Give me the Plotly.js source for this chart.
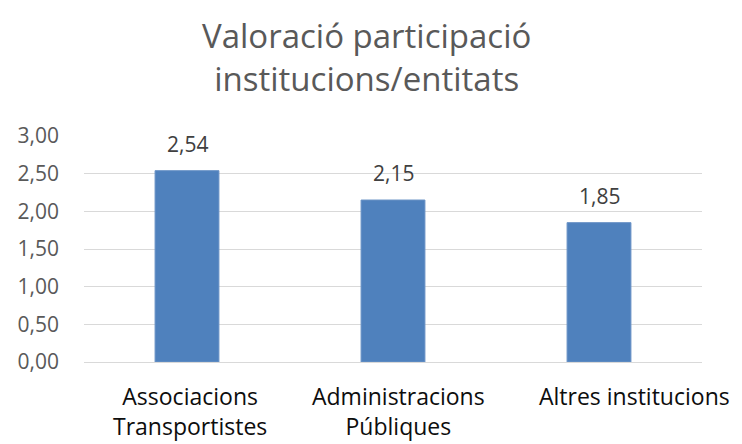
<!DOCTYPE html>
<html>
<head>
<meta charset="utf-8">
<script src="https://cdn.plot.ly/plotly-3.0.1.min.js"></script>
<style>
  html, body { margin: 0; padding: 0; background: #fff; }
  #graph { width: 742px; height: 444px; }
</style>
</head>
<body>
<div id="graph"></div>
<script>
var categories = ["Associacions Transportistes", "Administracions Públiques", "Altres institucions"];
var categoryLabels = ["Associacions<br>Transportistes", "Administracions<br>Públiques", "Altres institucions"];
var values = [2.54, 2.15, 1.85];
var valueLabels = ["2,54", "2,15", "1,85"];
var yTicks = [0, 0.5, 1, 1.5, 2, 2.5, 3];
var titleText = "Valoració participació<br>institucions/entitats";

var font = "'Open Sans', sans-serif";
// the original places its category labels a little off the bar centres
var labelNudge = [3, 5, 35];

var trace = {
  x: categories,
  y: values,
  type: 'bar',
  marker: { color: '#4f81bd', line: { color: '#6a93c6', width: 1 } },
  hoverinfo: 'none'
};

var notes = [];
for (var i = 0; i < categories.length; i++) {
  // value above the bar
  notes.push({
    x: categories[i],
    y: values[i],
    text: valueLabels[i],
    showarrow: false,
    yanchor: 'bottom',
    yshift: 11,
    font: { family: font, size: 21, color: '#404040' }
  });
  // category label under the axis
  notes.push({
    x: categories[i],
    y: 0,
    yref: 'paper',
    text: categoryLabels[i],
    showarrow: false,
    xanchor: 'center',
    yanchor: 'top',
    align: 'center',
    xshift: labelNudge[i],
    yshift: -16,
    font: { family: font, size: 23, color: '#0d0d0d' }
  });
}
// title as an annotation so both lines stay inside the page
notes.push({
  text: titleText,
  xref: 'paper', yref: 'paper',
  x: 0.457, y: 1.555,
  xanchor: 'center', yanchor: 'top',
  showarrow: false,
  font: { family: font, size: 33, color: '#595959' }
});

var layout = {
  width: 742,
  height: 444,
  margin: { l: 84, r: 40, t: 136, b: 82 },
  paper_bgcolor: '#fff',
  plot_bgcolor: '#fff',
  separators: ',.',
  bargap: 0.69,
  showlegend: false,
  xaxis: {
    range: [-0.5, categories.length - 0.5],
    autorange: false,
    showgrid: false,
    showline: true,
    linecolor: '#d9d9d9',
    linewidth: 1,
    ticks: '',
    showticklabels: false
  },
  yaxis: {
    range: [0, 3],
    autorange: false,
    tickvals: yTicks,
    tickformat: '.2f',
    showgrid: true,
    gridcolor: '#d9d9d9',
    gridwidth: 1,
    zeroline: false,
    showline: false,
    ticks: '',
    ticklabelstandoff: 24,
    tickfont: { family: font, size: 21, color: '#595959' }
  },
  annotations: notes
};

Plotly.newPlot('graph', [trace], layout, { displayModeBar: false, staticPlot: true });
</script>
</body>
</html>
